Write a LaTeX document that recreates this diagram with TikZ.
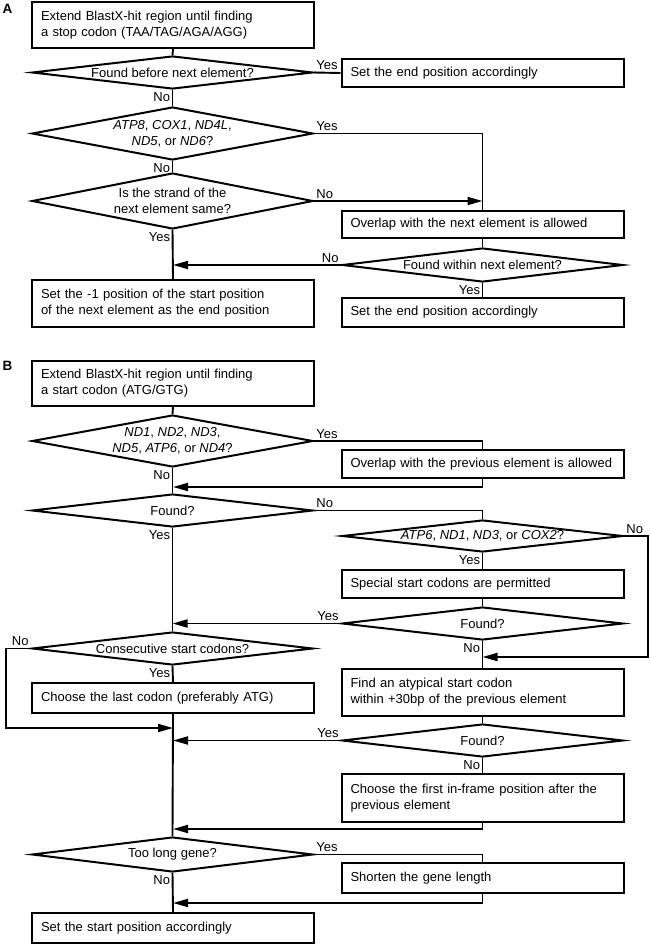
\documentclass[tikz,border=0pt]{standalone}
\usepackage{fontspec}
\setmainfont{Liberation Sans}
\usetikzlibrary{arrows.meta, positioning, shapes.geometric}

\tikzset{
  stepbox/.style={draw, line width=2pt, rectangle, text width=264pt, inner xsep=9pt, inner ysep=0pt, align=left},
  test/.style={draw, line width=2pt, diamond, inner sep=0pt, minimum width=281pt, align=center},
  flow/.style={line width=1.9pt},
  arr/.style={flow, -{Triangle[length=15pt, width=8pt]}},
  yn/.style={inner sep=1.5pt},
  panel/.style={font=\fontsize{13.5}{16}\selectfont\bfseries, inner sep=0pt}
}

\begin{document}
\begin{tikzpicture}[x=1pt, y=-1pt, font=\fontsize{13}{16}\selectfont]
\useasboundingbox (0,0) rectangle (650,945);

% panel A: stop codon
\node[panel] (lblA) at (7.5,8.5) {A};
\node[stepbox, minimum height=46pt] (a1) at (173,25) {Extend BlastX-hit region until finding\\a stop codon (TAA/TAG/AGA/AGG)};
\node[test, minimum height=33pt, aspect=8.5] (a2) at (172.5,72.5) {Found before next element?};
\node[stepbox, minimum height=28pt] (a3) at (482.5,73) {Set the end position accordingly};
\node[test, minimum height=53pt, aspect=5.3] (a4) at (172.5,133.5) {\textit{ATP8}, \textit{COX1}, \textit{ND4L},\\\textit{ND5}, or \textit{ND6}?};
\node[test, minimum height=56pt, aspect=5] (a5) at (172.5,201) {Is the strand of the\\next element same?};
\node[stepbox, minimum height=27pt] (a6) at (482.5,224.5) {Overlap with the next element is allowed};
\node[test, minimum height=34pt, aspect=8.3] (a7) at (482.5,265) {Found within next element?};
\node[stepbox, minimum height=29pt] (a8) at (482.5,312.5) {Set the end position accordingly};
\node[stepbox, minimum height=47pt] (a9) at (173,303.5) {Set the -1 position of the start position\\of the next element as the end position};

\draw[flow] (a1.south) -- (a2.north);
\draw[flow] (a2.east) -- node[yn, pos=0, anchor=south west] {Yes} (a3.west);
\draw[flow] (a2.south) -- node[yn, pos=0, anchor=north east] {No} (a4.north);
\draw[flow] (a4.east) -| node[yn, pos=0, anchor=south west] {Yes} (a6.north);
\draw[flow] (a4.south) -- node[yn, pos=0, anchor=north east] {No} (a5.north);
\draw[arr] (a5.east) -- node[yn, pos=0, anchor=south west] {No} (a5.east -| a6.north);
\draw[flow] (a5.south) -- node[yn, pos=0, anchor=north east] {Yes} (a9.north);
\draw[flow] (a6.south) -- (a7.north);
\draw[arr] (a7.west) -- node[yn, pos=0, anchor=south east] {No} (a7.west -| a9.north);
\draw[flow] (a7.south) -- node[yn, pos=0, anchor=north east] {Yes} (a8.north);

% panel B: start codon
\node[panel] (lblB) at (7.5,366) {B};
\node[stepbox, minimum height=45pt] (b1) at (173,383.5) {Extend BlastX-hit region until finding\\a start codon (ATG/GTG)};
\node[test, minimum height=52pt, aspect=5.4] (b2) at (172.5,441) {\textit{ND1}, \textit{ND2}, \textit{ND3},\\\textit{ND5}, \textit{ATP6}, or \textit{ND4}?};
\node[stepbox, minimum height=28pt] (b3) at (482.5,464) {Overlap with the previous element is allowed};
\node[test, minimum height=33pt, aspect=8.5] (b4) at (172.5,510.5) {Found?};
\node[test, minimum height=32pt, aspect=8.8] (b5) at (482.5,536) {\textit{ATP6}, \textit{ND1}, \textit{ND3}, or \textit{COX2}?};
\node[stepbox, minimum height=28pt] (b6) at (482.5,584) {Special start codons are permitted};
\node[test, minimum height=33pt, aspect=8.5] (b7) at (482.5,623.5) {Found?};
\node[test, minimum height=33pt, aspect=8.5] (b8) at (172.5,648.5) {Consecutive start codons?};
\node[stepbox, minimum height=30pt] (b9) at (173,698) {Choose the last codon (preferably ATG)};
\node[stepbox, minimum height=47pt] (b10) at (482.5,692.5) {Find an atypical start codon\\within +30bp of the previous element};
\node[test, minimum height=33pt, aspect=8.5] (b11) at (482.5,740.5) {Found?};
\node[stepbox, minimum height=48pt] (b12) at (482.5,798) {Choose the first in-frame position after the\\previous element};
\node[test, minimum height=35pt, aspect=8] (b13) at (172.5,854.5) {Too long gene?};
\node[stepbox, minimum height=30pt] (b14) at (482.5,878) {Shorten the gene length};
\node[stepbox, minimum height=30pt] (b15) at (173,928) {Set the start position accordingly};

\coordinate (j1) at (173,487);
\coordinate (j2) at (482.5,657);
\coordinate (j3) at (173,728);
\coordinate (j4) at (173,829);
\coordinate (j5) at (173,903);
\coordinate (k1) at (648,657);
\coordinate (k2) at (6,728);

\draw[flow] (b1.south) -- (b2.north);
\draw[flow] (b2.east) -| node[yn, pos=0, anchor=south west] {Yes} (b3.north);
\draw[flow] (b2.south) -- node[yn, pos=0, anchor=north east] {No} (b4.north);
\draw[arr] (b3.south) |- (j1);
\draw[flow] (b4.east) -| node[yn, pos=0, anchor=south west] {No} (b5.north);
\draw[flow] (b4.south) -- node[yn, pos=0, anchor=north east] {Yes} (b8.north);
\draw[flow] (b5.south) -- node[yn, pos=0, anchor=north east] {Yes} (b6.north);
\draw[arr] (b5.east) -| node[yn, pos=0, anchor=south west] {No} (k1) -- (j2);
\draw[flow] (b6.south) -- (b7.north);
\draw[arr] (b7.west) -- node[yn, pos=0, anchor=south east] {Yes} (b7.west -| b4.south);
\draw[flow] (b7.south) -- node[yn, pos=0, anchor=north east] {No} (b10.north);
\draw[arr] (b8.west) -| node[yn, pos=0, anchor=south east] {No} (k2) -- (j3);
\draw[flow] (b8.south) -- node[yn, pos=0, anchor=north east] {Yes} (b9.north);
\draw[flow] (b9.south) -- (b13.north);
\draw[flow] (b10.south) -- (b11.north);
\draw[arr] (b11.west) -- node[yn, pos=0, anchor=south east] {Yes} (b11.west -| b9.south);
\draw[flow] (b11.south) -- node[yn, pos=0, anchor=north east] {No} (b12.north);
\draw[arr] (b12.south) |- (j4);
\draw[flow] (b13.east) -| node[yn, pos=0, anchor=south west] {Yes} (b14.north);
\draw[flow] (b13.south) -- node[yn, pos=0, anchor=north east] {No} (b15.north);
\draw[arr] (b14.south) |- (j5);
\end{tikzpicture}
\end{document}
